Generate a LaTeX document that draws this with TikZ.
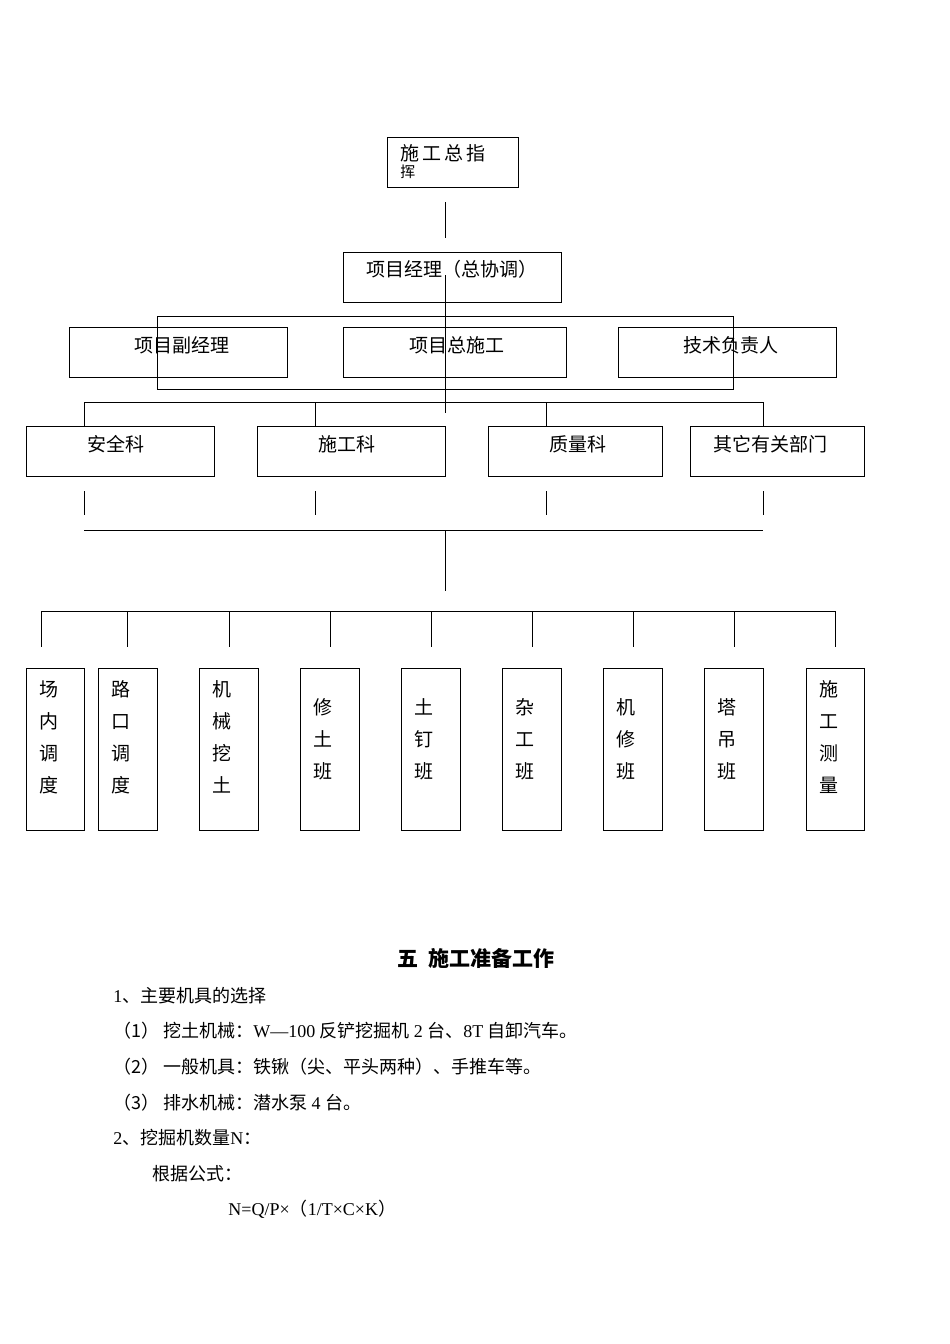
\documentclass[tikz,border=0pt]{standalone}
\usepackage{fontspec}
\setmainfont{Liberation Serif}
\newfontfamily\cjk{Noto Sans CJK SC}
\begin{document}
\begin{tikzpicture}[x=1pt,y=-1pt,line width=0.9pt,
  bx/.style={draw},
  t/.style={font=\cjk\fontsize{19}{23}\selectfont,inner sep=0pt},
  vt/.style={font=\cjk\fontsize{19}{32}\selectfont,inner sep=0pt,align=center,text width=20pt}]
\useasboundingbox (0,0) rectangle (950,1344);
\draw (387,137) rectangle (518,187);
\node[t,anchor=north west,font=\cjk\fontsize{19}{19}\selectfont,align=left] (top) at (400,144) {施\,工\,总\,指\\[-2pt]{\fontsize{15}{15}\selectfont 挥}};
\draw (445,202) -- (445,238);
\draw (343,252) rectangle (561,302);
\node[t] (pm) at (452,269) {项目经理（总协调）};
\draw (445,275) -- (445,413);
\draw (157,316) rectangle (733,389);
\draw (69,327) rectangle (287,377); \node[t] at (182,345) {项目副经理};
\draw (343,327) rectangle (566,377); \node[t] at (457,345) {项目总施工};
\draw (618,327) rectangle (836,377); \node[t] at (731,345) {技术负责人};
\draw (84,426) |- (763,402) -- (763,426);
\foreach \x in {315,546} \draw (\x,402) -- (\x,426);
\draw (26,426) rectangle (214,476); \node[t] at (116,444) {安全科};
\draw (257,426) rectangle (445,476); \node[t] at (347,444) {施工科};
\draw (488,426) rectangle (662,476); \node[t] at (578,444) {质量科};
\draw (690,426) rectangle (864,476); \node[t] at (770,444) {其它有关部门};
\foreach \x in {84,315,546,763} \draw (\x,491) -- (\x,515);
\draw (84,530) -- (763,530);
\draw (445,530) -- (445,591);
\draw (41,611) -- (835,611);
\foreach \x in {41,127,229,330,431,532,633,734,835} \draw (\x,611) -- (\x,647);
\foreach \a/\b/\s/\yy in {26/84/场\\内\\调\\度/0, 98/157/路\\口\\调\\度/0, 199/258/机\\械\\挖\\土/0, 300/359/修\\土\\班/18, 401/460/土\\钉\\班/18, 502/561/杂\\工\\班/18, 603/662/机\\修\\班/18, 704/763/塔\\吊\\班/18, 806/864/施\\工\\测\\量/0}{
  \draw (\a,668) rectangle (\b,830);
  \node[vt,anchor=north west] at (\a+13,680+\yy) {\s};
}
\node[font=\cjk\bfseries\fontsize{21}{25}\selectfont] at (476,958) {五\ \ 施工准备工作};
\begin{scope}[every node/.style={anchor=west,inner sep=0pt,font=\fontsize{18}{22}\selectfont}]
\node at (113,996) {1\cjk、主要机具的选择};
\node at (113,1031) {\cjk（1）\ 挖土机械：\rmfamily W—100 \cjk 反铲挖掘机 \rmfamily 2 \cjk 台、\rmfamily 8T \cjk 自卸汽车。};
\node at (113,1067) {\cjk（2）\ 一般机具：铁锹（尖、平头两种）、手推车等。};
\node at (113,1103) {\cjk（3）\ 排水机械：潜水泵 \rmfamily 4 \cjk 台。};
\node at (113,1138) {2\cjk、挖掘机数量\rmfamily N\cjk ：};
\node at (152,1174) {\cjk 根据公式：};
\node at (228,1209) {N=Q/P×{\cjk（}1/T×C×K{\cjk）}};
\end{scope}
\end{tikzpicture}
\end{document}
